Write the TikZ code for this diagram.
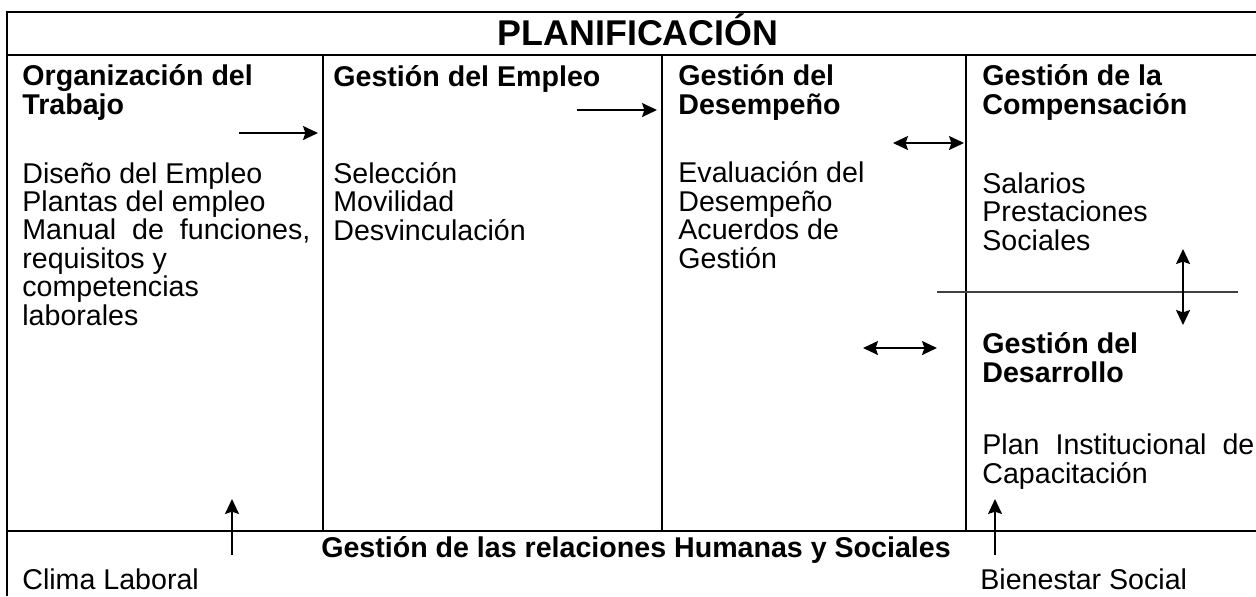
\documentclass[tikz,border=0pt]{standalone}
\usepackage{fontspec}
\setmainfont{Liberation Sans}
\usetikzlibrary{positioning, arrows.meta}
\tikzset{
>={Stealth[length=7.5pt, width=7pt, inset=1.2pt]}, % filled arrow heads
frame/.style={line width=1.2pt, line join=miter}, % the lines of the table
sep/.style={line width=0.6pt, black!75}, % thin line between the two boxes on the right
arr/.style={line width=0.9pt}, % the arrows
txt/.style={anchor=base west, inner sep=0pt, align=left, font=\fontsize{14.3}{14.2}\selectfont}, % base is the last line
head/.style={txt, font=\fontsize{14.3}{14.2}\selectfont\bfseries},
title/.style={anchor=base, inner sep=0pt, font=\fontsize{17.9}{20}\selectfont\bfseries},
}

\begin{document}
\begin{tikzpicture}[x=0.5pt, y=-0.5pt]
    \useasboundingbox (0,0) rectangle (1256,596);
    % table
    \draw[frame] (1256,12) -- (7,12) -- (7,596);
    \draw[frame] (7,55) -- (1256,55);
    \draw[frame] (7,531) -- (1256,531);
    \foreach \x in {323,662,966}
        \draw[frame] (\x,55) -- (\x,531);
    \draw[sep] (937,292) -- (1238,292);

    % texts
    \node[title] (plan) at (638,45) {PLANIFICACIÓN};
    \node[head] (orgT) at (22,114) {Organización del\\Trabajo};
    \node[head] (empT) at (333,86) {Gestión del Empleo};
    \node[head] (desT) at (678,114) {Gestión del\\Desempeño};
    \node[head] (comT) at (982,114) {Gestión de la\\Compensación};
    \node[txt] (orgB) at (22,325) {Diseño del Empleo\\Plantas del empleo\\\makebox[144pt][s]{Manual de funciones,}\\requisitos y\\competencias\\laborales};
    \node[txt] (empB) at (333,240) {Selección\\Movilidad\\Desvinculación};
    \node[txt] (desB) at (678,268) {Evaluación del\\Desempeño\\Acuerdos de\\Gestión};
    \node[txt] (comB) at (982,250) {Salarios\\Prestaciones\\Sociales};
    \node[head] (dsaT) at (982,382) {Gestión del\\Desarrollo};
    \node[txt] (dsaB) at (982,483) {\makebox[136pt][s]{Plan Institucional de}\\Capacitación};
    \node[head, anchor=base] (rel) at (636,557) {Gestión de las relaciones Humanas y Sociales};
    \node[txt] (clima) at (22,589) {Clima Laboral};
    \node[txt] (bien) at (980,589) {Bienestar Social};

    % arrows
    \coordinate (orgS) at (239,133);  \coordinate (orgE) at (318,133);
    \coordinate (empS) at (577,110);  \coordinate (empE) at (657,110);
    \coordinate (desS) at (893,143);  \coordinate (desE) at (964,143);
    \coordinate (dsaS) at (863,348);  \coordinate (dsaE) at (937,348);
    \coordinate (comS) at (1183,249); \coordinate (comE) at (1183,325);
    \coordinate (climaS) at (232,555); \coordinate (climaE) at (232,499);
    \coordinate (bienS) at (995,555);  \coordinate (bienE) at (995,499);
    \draw[arr, ->] (orgS) -- (orgE);
    \draw[arr, ->] (empS) -- (empE);
    \draw[arr, <->] (desS) -- (desE);
    \draw[arr, <->] (dsaS) -- (dsaE);
    \draw[arr, <->] (comS) -- (comE);
    \draw[arr, ->] (climaS) -- (climaE);
    \draw[arr, ->] (bienS) -- (bienE);
\end{tikzpicture}
\end{document}
